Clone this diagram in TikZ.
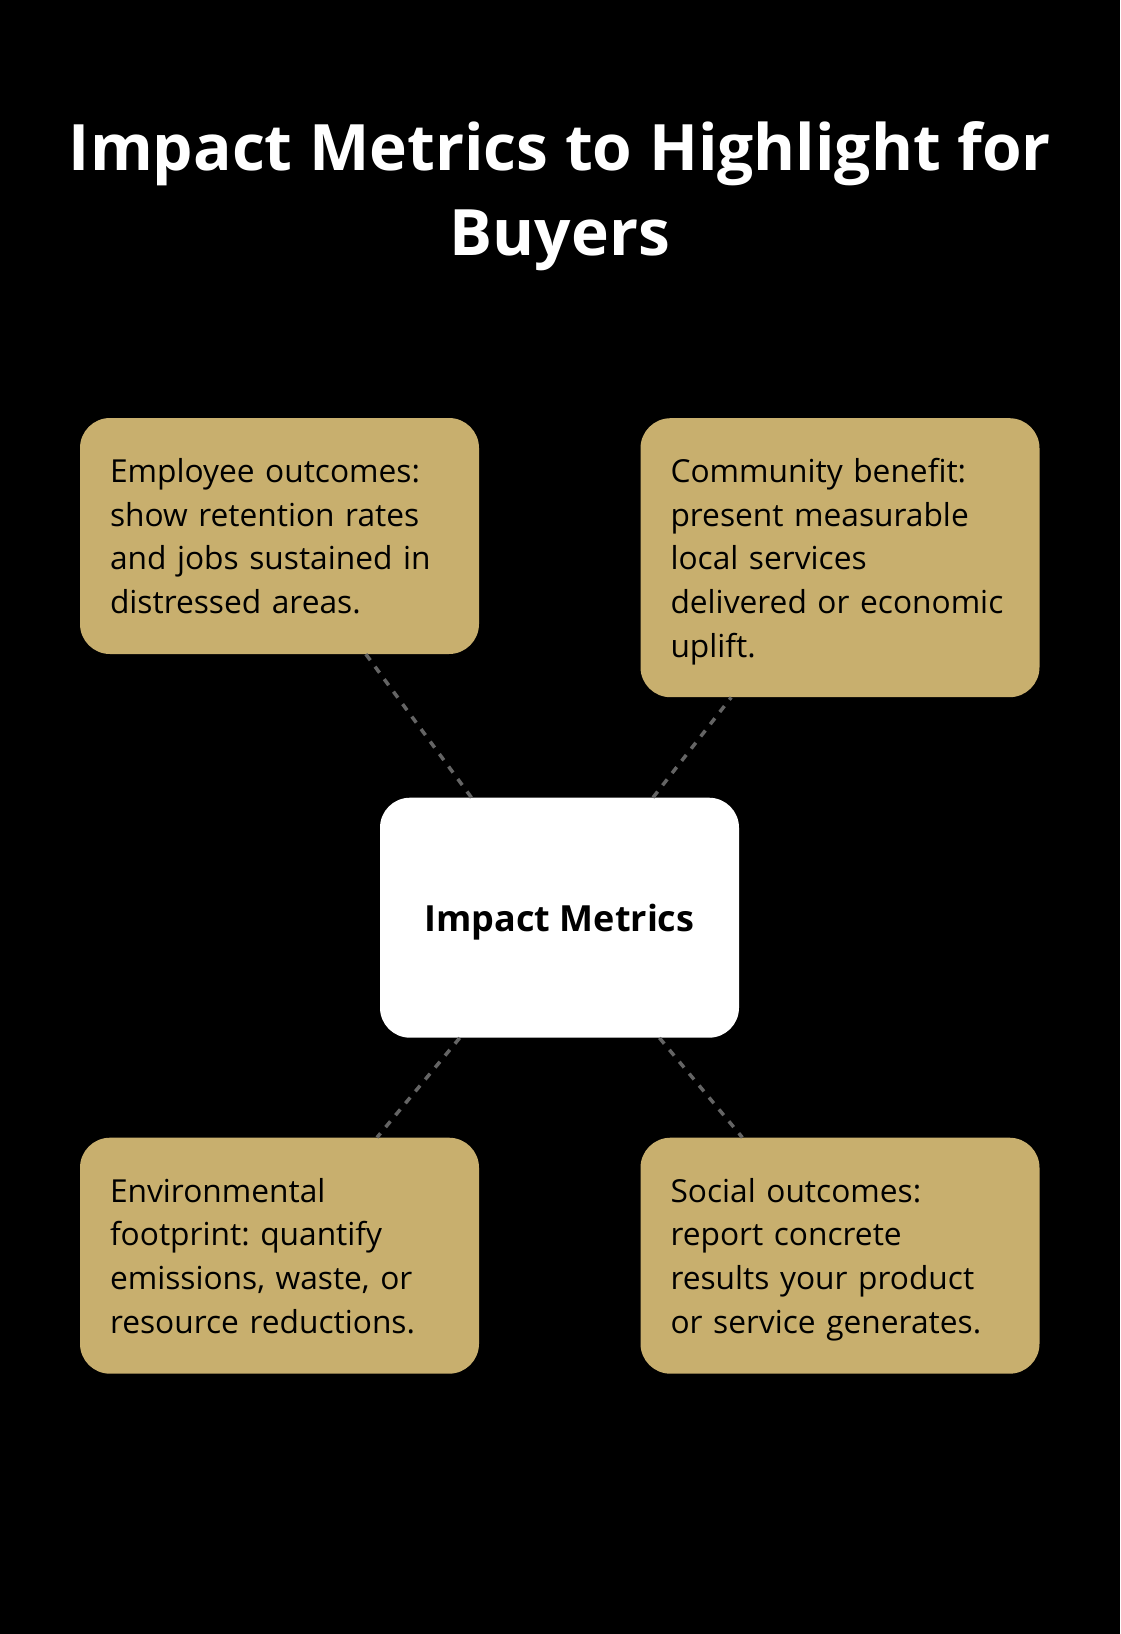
\documentclass[tikz,border=0pt]{standalone}
\usepackage{fontspec}
\setmainfont{Open Sans}
\frenchspacing
\definecolor{gold}{RGB}{200,175,110}
\definecolor{dashgray}{RGB}{100,100,100}
\tikzset{
  infobox/.style={rectangle, rounded corners=30pt, fill=gold, text=black,
    minimum width=399pt, text width=339pt, inner xsep=30pt, inner ysep=0pt,
    align=left, font=\fontsize{31.7}{43.7}\selectfont},
  hubbox/.style={rectangle, rounded corners=30pt, fill=white, text=black,
    minimum width=359pt, minimum height=240pt, align=center, text depth=0pt,
    font=\fontsize{36}{40}\selectfont\bfseries},
  conn/.style={draw=dashgray, line width=3.5pt, dash pattern=on 7.5pt off 8pt},
  titlestyle/.style={text=white, align=center, inner sep=0pt,
    font=\fontsize{64}{85}\selectfont\bfseries}
}
\begin{document}
\begin{tikzpicture}[x=1pt,y=-1pt]
\path[fill=black, use as bounding box] (0,0) rectangle (1120,1634);
\node[titlestyle, anchor=base] (title) at (560,255) {Impact Metrics to Highlight for\\Buyers};
\node[hubbox] (c) at (559.5,917.7) {Impact Metrics};
\node[infobox, minimum height=236pt] (tl) at (279.5,536) {Employee outcomes:\\show retention rates\\and jobs sustained in\\\smash{distressed areas.}};
\node[infobox, minimum height=279pt] (tr) at (840,557.7) {Community benefit:\\present measurable\\local services\\delivered or economic\\\smash{uplift.}};
\node[infobox, minimum height=236pt] (bl) at (279.5,1255.7) {Environmental\\footprint: quantify\\emissions, waste, or\\\smash{resource reductions.}};
\node[infobox, minimum height=236pt] (br) at (840,1255.7) {Social outcomes:\\report concrete\\results your product\\\smash{or service generates.}};
\draw[conn] (c) -- (tl);
\draw[conn] (c) -- (tr);
\draw[conn] (c) -- (bl);
\draw[conn] (c) -- (br);
\end{tikzpicture}
\end{document}
